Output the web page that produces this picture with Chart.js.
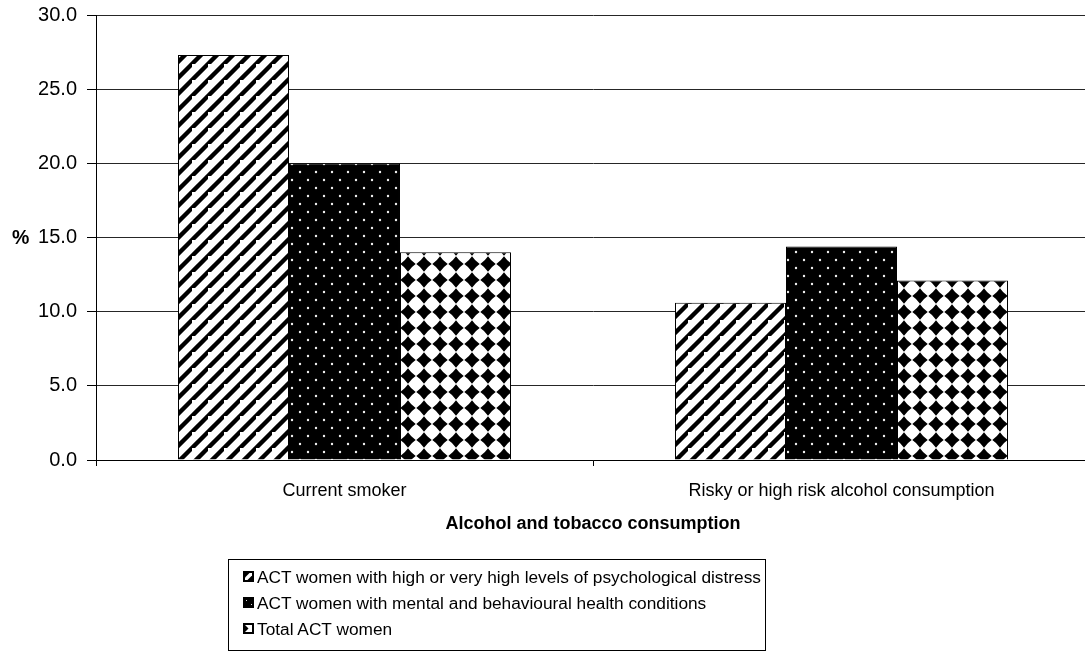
<!DOCTYPE html>
<html>
<head>
<meta charset="utf-8">
<script src="https://cdn.jsdelivr.net/npm/chart.js@4/dist/chart.umd.min.js"></script>
<style>
  html, body { margin: 0; padding: 0; background: #fff; overflow: hidden; }
  #page { position: relative; width: 1085px; height: 656px; overflow: hidden; }
  #plot { position: absolute; left: 0; top: 0; width: 1092px; height: 540px; }
  #legend {
    position: absolute; left: 228px; top: 559px; width: 538px; height: 92px;
    box-sizing: border-box; border: 1px solid #000; padding-top: 4px;
    font-family: "Liberation Sans", Arial, sans-serif; font-size: 17.3px; color: #000;
  }
  #legend .row { height: 26px; line-height: 26px; white-space: nowrap; }
  #legend canvas { display: inline-block; vertical-align: middle; margin: -3px 3px 0 14px; }
</style>
</head>
<body>
<div id="page">
  <div id="plot"><canvas id="chart"></canvas></div>
  <div id="legend"></div>
</div>
<script>
// Categories and series values (%)
const categories = ['Current smoker', 'Risky or high risk alcohol consumption'];
const seriesNames = [
  'ACT women with high or very high levels of psychological distress',
  'ACT women with mental and behavioural health conditions',
  'Total ACT women'
];
const distressValues = [27.3, 10.6];
const mentalHealthValues = [20.0, 14.4];
const totalValues = [14.0, 12.1];
const yTicks = [0, 5, 10, 15, 20, 25, 30];
const xTitle = 'Alcohol and tobacco consumption';
const yTitle = '%';

const FONT = '"Liberation Sans", Arial, sans-serif';

// Builds a repeating tile with a slight softening, drawn from a 3x3 block
// so the blur wraps seamlessly across tile edges.
function makeTile(size, drawCell, blur) {
  const big = document.createElement('canvas');
  big.width = big.height = size * 3;
  const b = big.getContext('2d');
  for (let i = 0; i < 3; i++) {
    for (let j = 0; j < 3; j++) {
      b.save();
      b.translate(i * size, j * size);
      drawCell(b, size);
      b.restore();
    }
  }
  const tile = document.createElement('canvas');
  tile.width = tile.height = size;
  const t = tile.getContext('2d');
  if (blur) t.filter = 'blur(' + blur + 'px)';
  t.drawImage(big, -size, -size);
  return tile;
}

// Wide upward diagonal stripes
const stripeTile = makeTile(16, (c, s) => {
  c.fillStyle = '#fff';
  c.fillRect(0, 0, s, s);
  c.strokeStyle = '#000';
  c.lineWidth = 4;
  c.beginPath();
  c.moveTo(-s, 2 * s); c.lineTo(2 * s, -s);
  c.stroke();
}, 0.6);

// Black with small light dots in a staggered grid
const dotTile = makeTile(16, (c, s) => {
  c.fillStyle = '#000';
  c.fillRect(0, 0, s, s);
  c.fillStyle = '#f0f0f0';
  c.beginPath(); c.arc(4, 4, 1.2, 0, Math.PI * 2); c.fill();
  c.beginPath(); c.arc(12, 12, 1.2, 0, Math.PI * 2); c.fill();
}, 0.3);

// White with black diamonds on a square grid, tips nearly touching
const diamondTile = makeTile(16, (c, s) => {
  c.fillStyle = '#fff';
  c.fillRect(0, 0, s, s);
  c.fillStyle = '#000';
  const h = 7.7, cx = 8, cy = 8, k = h * 0.4;
  c.beginPath();
  c.moveTo(cx, cy - h);
  c.quadraticCurveTo(cx + k, cy - k, cx + h, cy);
  c.quadraticCurveTo(cx + k, cy + k, cx, cy + h);
  c.quadraticCurveTo(cx - k, cy + k, cx - h, cy);
  c.quadraticCurveTo(cx - k, cy - k, cx, cy - h);
  c.fill();
}, 0.6);

const ctx = document.getElementById('chart').getContext('2d');
const fills = [
  ctx.createPattern(stripeTile, 'repeat'),
  ctx.createPattern(dotTile, 'repeat'),
  ctx.createPattern(diamondTile, 'repeat')
];

// Horizontal "%" axis caption beside the value axis
const yCaption = {
  id: 'yCaption',
  afterDraw(chart) {
    const c = chart.ctx, a = chart.chartArea;
    c.save();
    c.font = 'bold 19.5px ' + FONT;
    c.fillStyle = '#000';
    c.textAlign = 'left';
    c.textBaseline = 'middle';
    c.fillText(yTitle, 12, (a.top + a.bottom) / 2 + 1);
    c.restore();
  }
};

const seriesValues = [distressValues, mentalHealthValues, totalValues];

const chart = new Chart(ctx, {
  type: 'bar',
  data: {
    labels: categories,
    datasets: seriesValues.map((vals, i) => ({
      label: seriesNames[i],
      data: vals,
      backgroundColor: fills[i],
      borderColor: '#000',
      borderWidth: 1,
      categoryPercentage: 0.67,
      barPercentage: 1.0
    }))
  },
  options: {
    responsive: true,
    maintainAspectRatio: false,
    animation: false,
    layout: { padding: { top: 15, right: 2, bottom: 0, left: 0 } },
    plugins: {
      legend: { display: false },
      tooltip: { enabled: false }
    },
    scales: {
      x: {
        grid: {
          display: true, drawOnChartArea: false, drawTicks: true,
          tickLength: 6, tickColor: '#000', offset: true
        },
        border: { display: true, color: '#000', width: 1 },
        ticks: {
          color: '#000', padding: 14, maxRotation: 0,
          font: { family: FONT, size: 18 }
        },
        title: {
          display: true, text: xTitle, color: '#000',
          font: { family: FONT, size: 18, weight: 'bold' },
          padding: { top: 0, bottom: 5 }
        },
        afterFit(scale) {
          scale.height = 80;
          scale.paddingLeft = 0; scale.paddingRight = 0;
        }
      },
      y: {
        min: 0, max: 30,
        afterBuildTicks(scale) { scale.ticks = yTicks.map(v => ({ value: v })); },
        grid: {
          color: '#262626', lineWidth: 1, drawTicks: true,
          tickLength: 9, tickColor: '#000'
        },
        border: { display: true, color: '#000', width: 1 },
        ticks: {
          color: '#000', padding: 10,
          font: { family: FONT, size: 20 },
          callback: v => Number(v).toFixed(1)
        },
        afterFit(scale) {
          scale.width = 96;
          scale.paddingTop = 0; scale.paddingBottom = 0;
        }
      }
    }
  },
  plugins: [yCaption]
});

// Legend with small pattern swatches
function swatch(kind) {
  const cv = document.createElement('canvas');
  cv.width = 11; cv.height = 11;
  const c = cv.getContext('2d');
  c.fillStyle = '#000';
  c.fillRect(0, 0, 11, 11);
  if (kind === 0) {
    c.fillStyle = '#fff';
    c.beginPath();
    c.moveTo(2, 9); c.lineTo(2, 6.5); c.lineTo(6.5, 2); c.lineTo(9, 2); c.lineTo(9, 4.5); c.lineTo(4.5, 9);
    c.closePath(); c.fill();
  } else if (kind === 1) {
    c.fillStyle = '#ddd';
    c.fillRect(3, 3, 1, 1);
    c.fillRect(8, 7, 1, 1);
  } else {
    c.fillStyle = '#fff';
    c.fillRect(2, 2, 7, 7);
    c.fillStyle = '#000';
    c.beginPath();
    c.moveTo(2, 2); c.lineTo(5.5, 5.5); c.lineTo(2, 9); c.closePath(); c.fill();
  }
  return cv;
}

const legendEl = document.getElementById('legend');
chart.data.datasets.forEach((ds, i) => {
  const row = document.createElement('div');
  row.className = 'row';
  row.appendChild(swatch(i));
  row.appendChild(document.createTextNode(ds.label));
  legendEl.appendChild(row);
});
</script>
</body>
</html>
